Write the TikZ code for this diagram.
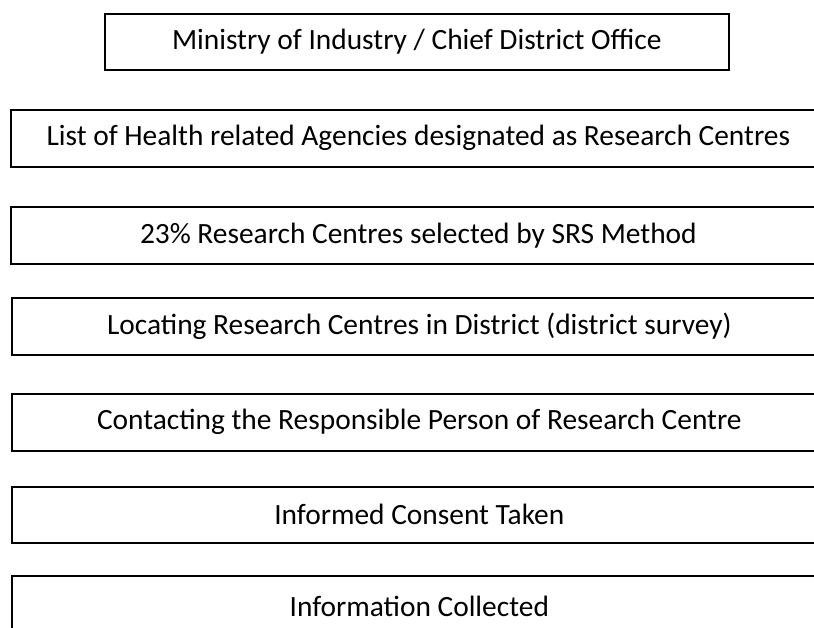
\documentclass[tikz,border=0pt]{standalone}
\usepackage{fontspec}
\setmainfont{Carlito}
\begin{document}
\begin{tikzpicture}[x=1pt,y=-1pt,
  stepbox/.style={draw=black, line width=1.6pt, rectangle, inner sep=0pt,
    anchor=north west, font=\fontsize{29.4}{34}\selectfont},
  widebox/.style={stepbox, minimum width=815pt, minimum height=57pt}]
\useasboundingbox (0,0) rectangle (814,628);
\clip (0,0) rectangle (814,628);
% top box, fully inside the page
\node[stepbox, minimum width=624pt, minimum height=56pt] (ministry) at (104,13)
  {Ministry of Industry / Chief District Office};
% the following boxes run off the right edge of the page
\node[widebox] (list)     at (10,109) {List of Health related Agencies designated as Research Centres};
\node[widebox] (select)   at (10,206) {23\% Research Centres selected by SRS Method};
\node[widebox] (locate)   at (11,297) {Locating Research Centres in District (district survey)};
\node[widebox] (contact)  at (11,393) {Contacting the Responsible Person of Research Centre};
\node[widebox, minimum height=56pt] (consent)  at (11,486) {Informed Consent Taken};
% the last box also runs off the bottom edge
\node[widebox, minimum height=62pt] (collect)  at (11,575) {Information Collected};
\end{tikzpicture}
\end{document}
